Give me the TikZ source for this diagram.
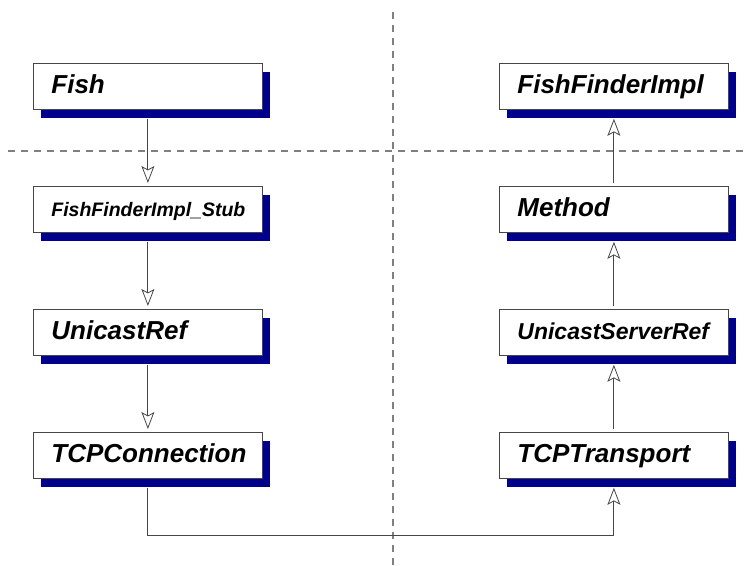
\documentclass[tikz,border=0pt]{standalone}
\usepackage{fontspec}
\setmainfont{Liberation Sans}
\usetikzlibrary{arrows.meta,shadows}
\definecolor{shadowblue}{RGB}{0,0,140}
\definecolor{linegray}{RGB}{70,70,70}
\definecolor{dashgray}{RGB}{128,128,128}
\begin{document}
\begin{tikzpicture}[x=1pt,y=1pt,
  classbox/.style={draw=linegray, line width=0.8pt, fill=white, anchor=north west,
    minimum height=46pt, text width=193pt, inner xsep=18pt, inner ysep=0pt, align=left,
    text height=19pt, text depth=4pt,
    font=\fontsize{26}{30}\selectfont\bfseries\itshape,
    general shadow={fill=shadowblue, shadow xshift=8pt, shadow yshift=-9pt}},
  conn/.style={draw=linegray, line width=0.9pt,
    -{Stealth[open, length=17pt, width=13pt, inset=3.5pt, line width=0.8pt]}},
  divider/.style={draw=dashgray, line width=1.3pt, dash pattern=on 7pt off 6pt}]
\useasboundingbox (0,0) rectangle (751,-565);
% dividers
\draw[divider] (393,-12) -- (393,-565);
\draw[divider] (8,-151) -- (748,-151);
% classes
\node[classbox] (fish) at (33,-63) {Fish};
\node[classbox] (stub) at (33,-186) {\fontsize{19.5}{22}\selectfont FishFinderImpl\_Stub};
\node[classbox] (uref) at (33,-309) {UnicastRef};
\node[classbox] (tcpc) at (33,-432) {TCPConnection};
\node[classbox] (ffi) at (499,-63) {FishFinderImpl};
\node[classbox] (meth) at (499,-186) {Method};
\node[classbox] (usref) at (499,-309) {\fontsize{23}{26}\selectfont UnicastServerRef};
\node[classbox] (tcpt) at (499,-432) {TCPTransport};
% connectors
\draw[conn] ([yshift=-9pt]fish.south) -- ([yshift=3pt]stub.north);
\draw[conn] ([yshift=-9pt]stub.south) -- ([yshift=3pt]uref.north);
\draw[conn] ([yshift=-9pt]uref.south) -- ([yshift=3pt]tcpc.north);
\draw[conn] ([yshift=3pt]meth.north) -- ([yshift=-9pt]ffi.south);
\draw[conn] ([yshift=3pt]usref.north) -- ([yshift=-9pt]meth.south);
\draw[conn] ([yshift=3pt]tcpt.north) -- ([yshift=-9pt]usref.south);
\coordinate (bend) at (393,-535);
\draw[conn] ([yshift=-9pt]tcpc.south) -- (tcpc.south |- bend) -- (tcpt.south |- bend) -- ([yshift=-9pt]tcpt.south);
\end{tikzpicture}
\end{document}
